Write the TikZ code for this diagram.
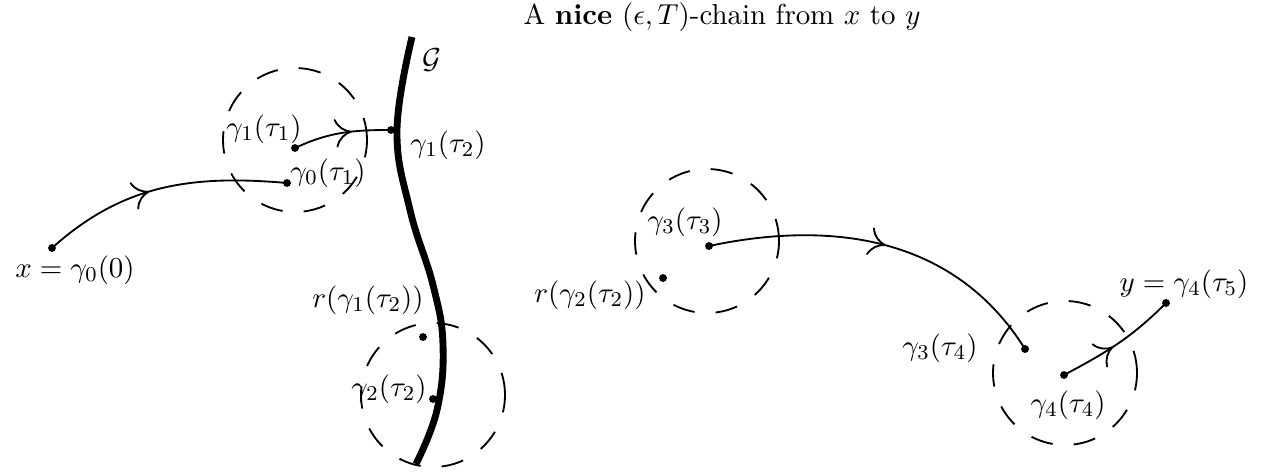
\documentclass[tikz,border=0pt]{standalone}
\usepackage{amssymb}
\usetikzlibrary{arrows.meta, decorations.markings}

\begin{document}
\begin{tikzpicture}[x=0.013333cm, y=-0.013333cm, line width=0.7pt,
  font=\fontsize{10.95pt}{13pt}\selectfont,
  >={To[length=2.2mm, width=3.8mm]},
  pt/.style={circle, fill, inner sep=0pt, minimum size=3pt},
  ball/.style={circle, draw, dash pattern=on 8.5pt off 8pt, minimum size=1.92cm,
               inner sep=0pt},
  midarrow/.style={postaction={decorate}, decoration={markings,
               mark=at position #1 with {\arrow{>}}}},
  midarrow/.default=0.5]
  \useasboundingbox (0,0) rectangle (1278,475);

  \node (title) at (722,17) {A \textbf{nice} $(\epsilon,T)$-chain from $x$ to $y$};

  % the set G
  \draw[line width=2.6pt] plot[smooth, tension=0.7] coordinates
     {(412,37) (397,130) (410,210) (433,285) (443,345) (437,410) (416,464)};
  \node (G) at (432,60) {$\mathcal{G}$};

  % balls
  \node[ball] (b1) at (295,140) {};
  \node[ball] (b2) at (433,395) {};
  \node[ball] (b3) at (707,241) {};
  \node[ball] (b4) at (1065,373) {};

  % points on the chain
  \node[pt] (x0)   at (52,248)   {};
  \node[pt] (g0t1) at (287,183)  {};
  \node[pt] (g1t1) at (295,148)  {};
  \node[pt] (g1t2) at (391,130)  {};
  \node[pt] (rg1)  at (423,337)  {};
  \node[pt] (g2t2) at (433,399)  {};
  \node[pt] (rg2)  at (663,278)  {};
  \node[pt] (g3t3) at (709,246)  {};
  \node[pt] (g3t4) at (1025,349) {};
  \node[pt] (g4t4) at (1064,375) {};
  \node[pt] (y5)   at (1166,303) {};

  % labels
  \node (lx0)   at (75,270)   {$x=\gamma_0(0)$};
  \node (lg0t1) at (328,173)  {$\gamma_0(\tau_1)$};
  \node (lg1t1) at (264,129)  {$\gamma_1(\tau_1)$};
  \node (lg1t2) at (448,145)  {$\gamma_1(\tau_2)$};
  \node (lrg1)  at (368,300)  {$r(\gamma_1(\tau_2))$};
  \node (lg2t2) at (389,389)  {$\gamma_2(\tau_2)$};
  \node (lrg2)  at (590,295)  {$r(\gamma_2(\tau_2))$};
  \node (lg3t3) at (685,222)  {$\gamma_3(\tau_3)$};
  \node (lg3t4) at (940,348)  {$\gamma_3(\tau_4)$};
  \node (lg4t4) at (1068,405) {$\gamma_4(\tau_4)$};
  \node (ly5)   at (1184,284) {$y=\gamma_4(\tau_5)$};

  % pieces of the chain
  \draw[midarrow=0.45] (x0.center) to[out=42, in=175] (g0t1.center);
  \draw[midarrow=0.6] (g1t1.center) to[out=25, in=180] (g1t2.center);
  \draw[midarrow=0.5] (g3t3.center) to[out=12, in=122] (g3t4.center);
  \draw[midarrow=0.45] (g4t4.center) to[out=28, in=225] (y5.center);
\end{tikzpicture}
\end{document}
